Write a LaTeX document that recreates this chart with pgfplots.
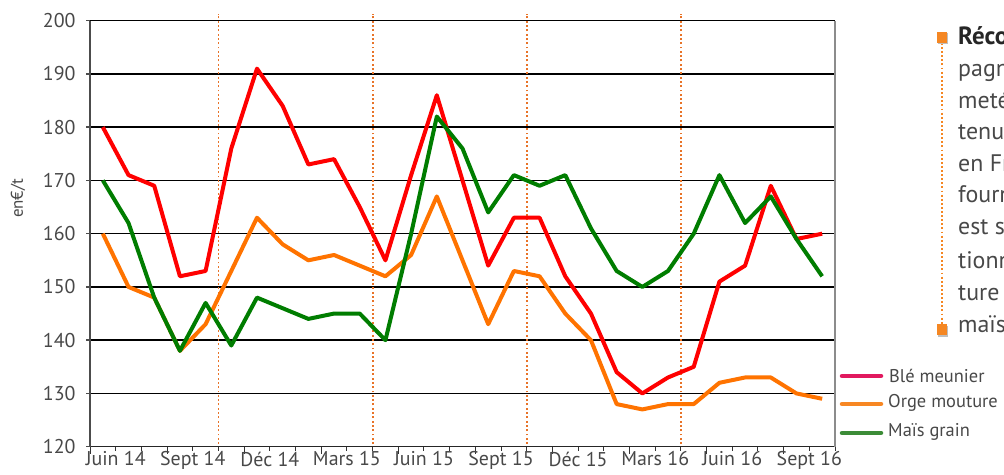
\documentclass[border=0pt]{standalone}
\usepackage{fontspec}
\setmainfont{PT Sans}
\usepackage{pgfplots}
\usepackage{pgfplotstable}
\pgfplotsset{compat=1.18}
\definecolor{cred}{RGB}{255,0,0}
\definecolor{corange}{RGB}{255,115,0}
\definecolor{cgreen}{RGB}{0,125,0}
\definecolor{lpink}{RGB}{225,25,95}
\definecolor{lorange}{RGB}{247,135,35}
\definecolor{lgreen}{RGB}{60,140,55}
\definecolor{dotor}{RGB}{232,115,40}
\definecolor{txt}{RGB}{72,72,72}
\definecolor{bull}{RGB}{245,135,35}

\pgfplotstableread{
x ble orge mais
0 180 160 170
1 171 150 162
2 169 148 148
3 152 138 138
4 153 143 147
5 176 153 139
6 191 163 148
7 184 158 146
8 173 155 144
9 174 156 145
10 165 154 145
11 155 152 140
12 171 156 160
13 186 167 182
14 170 155 176
15 154 143 164
16 163 153 171
17 163 152 169
18 152 145 171
19 145 140 161
20 134 128 153
21 130 127 150
22 133 128 153
23 135 128 160
24 151 132 171
25 154 133 162
26 169 133 167
27 159 130 159
28 160 129 152
}\prices

\begin{document}
\begin{tikzpicture}[x=1bp,y=1bp]
\useasboundingbox (0,0) rectangle (1004,475);
\begin{axis}[
  at={(90bp,28.3bp)}, anchor=south west, scale only axis,
  width=745bp, height=426bp,
  xmin=-0.5, xmax=28.5, ymin=120, ymax=200,
  axis x line*=bottom, axis y line*=left,
  x axis line style={draw=black!85, line width=1.5bp, -},
  y axis line style={draw=black!70, line width=2bp, -},
  ytick={120,130,...,200},
  ymajorgrids, major grid style={black, line width=1.4bp},
  xtick={-0.5,2.5,...,26.5},
  xticklabels={Juin 14, Sept 14, Déc 14, Mars 15, Juin 15, Sept 15, Déc 15, Mars 16, Juin 16, Sept 16},
  minor xtick={-0.5,0.5,...,28.5},
  minor tick length=4bp,
  major tick length=4bp,
  x tick style={/pgfplots/major tick length=7bp},
  tick style={draw=black!80, line width=1bp},
  y tick style={draw=black!70, line width=1.5bp},
  tick align=outside,
  tick label style={font=\fontsize{20}{22}\selectfont, text=txt},
  xticklabel style={xshift=25.7bp, yshift=2.5bp},
  yticklabel style={xshift=-7bp},
  /pgf/number format/assume math mode=true,
  clip=false,
]
\addplot[draw=dotor, line width=1.9bp, dash pattern=on 1.9bp off 2.4bp] coordinates {(4.5,120.5) (4.5,201.3)};
\addplot[draw=dotor, line width=1.9bp, dash pattern=on 1.9bp off 2.4bp] coordinates {(10.5,120.5) (10.5,201.3)};
\addplot[draw=dotor, line width=1.9bp, dash pattern=on 1.9bp off 2.4bp] coordinates {(16.5,120.5) (16.5,201.3)};
\addplot[draw=dotor, line width=1.9bp, dash pattern=on 1.9bp off 2.4bp] coordinates {(22.5,120.5) (22.5,201.3)};
\addplot[cred, line width=4bp, line join=round] table[x=x, y=ble] {\prices};
\addplot[corange, line width=4bp, line join=round] table[x=x, y=orge] {\prices};
\addplot[cgreen, line width=4bp, line join=round] table[x=x, y=mais] {\prices};
\end{axis}
% right border
\draw[black!45, line width=1.8bp] (834.7,28.3) -- (834.7,454.3);
% y label
\node[rotate=90, font=\fontsize{17}{19}\selectfont, text=txt] at (18,276.5) {en€/t};
% legend
\draw[lpink, line width=4.5bp, line cap=round] (842,99) -- (881,99);
\draw[lorange, line width=4.5bp, line cap=round] (842,71) -- (881,71);
\draw[lgreen, line width=4.5bp, line cap=round] (842,42) -- (881,42);
\node[anchor=base west, inner sep=0, font=\fontsize{18.5}{20}\selectfont, text=txt] at (889,92) {Blé meunier};
\node[anchor=base west, inner sep=0, font=\fontsize{18.5}{20}\selectfont, text=txt] at (888,67) {Orge mouture};
\node[anchor=base west, inner sep=0, font=\fontsize{18.5}{20}\selectfont, text=txt] at (888,38.3) {Maïs grain};
% side text
\draw[draw=bull, line width=1.9bp, dash pattern=on 1.9bp off 2.2bp] (941.7,432) -- (941.7,150);
\fill[black!25] (938.4,430.8) rectangle (948.4,441.8);
\fill[bull] (936.7,432.3) rectangle (946.7,443.3);
\fill[black!25] (938.4,138) rectangle (948.4,149);
\fill[bull] (936.7,139.5) rectangle (946.7,150.5);
\begin{scope}[every node/.style={anchor=base west, inner sep=0, font=\fontsize{24}{26}\selectfont, text=txt}]
\node[font=\fontsize{25}{27}\selectfont\bfseries, text=black!85] at (958,430) {Récolte};
\node at (958,398) {pagne};
\node at (958,366) {metéo};
\node at (958,335) {tenue};
\node at (958,303) {en France};
\node at (958,272) {fourniture};
\node at (958,240) {est stable};
\node at (958,206) {tionnelle};
\node at (958,174) {ture de};
\node at (958,142) {maïs};
\end{scope}
\end{tikzpicture}
\end{document}
